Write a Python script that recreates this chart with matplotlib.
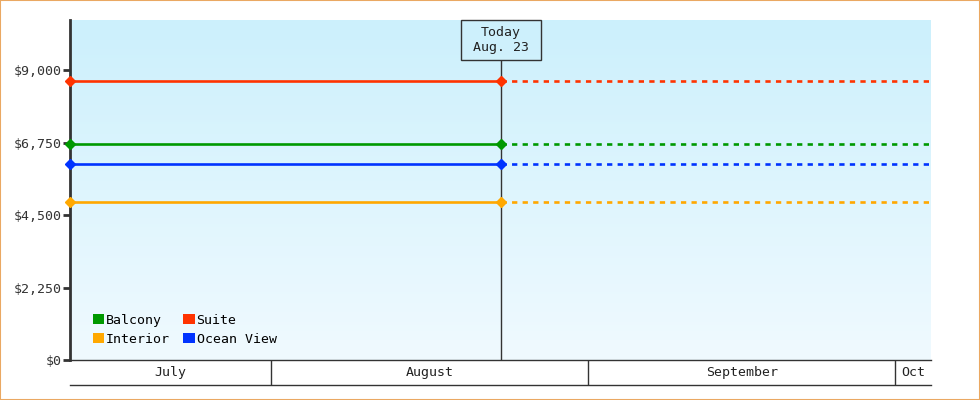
import matplotlib
matplotlib.use('Agg')
import matplotlib.pyplot as plt
import matplotlib.dates as mdates
from matplotlib.patches import Rectangle, Patch
from datetime import datetime
import numpy as np

plt.rcParams['font.family'] = ['DejaVu Sans Mono']

# data
room_types = ['Balcony', 'Interior', 'Suite', 'Ocean View']
prices = [6710, 4900, 8660, 6080]
colors = ['#009900', '#ffa800', '#ff3300', '#0033ff']
start_date = datetime(2024, 7, 12, 9)
today = datetime(2024, 8, 23, 12)
end_date = datetime(2024, 10, 4, 12)
months = ['July', 'August', 'September', 'Oct']
month_starts = [datetime(2024, 8, 1), datetime(2024, 9, 1), datetime(2024, 10, 1)]
y_ticks = [0, 2250, 4500, 6750, 9000]
y_max = 10560
today_label = 'Today\nAug. 23'

W, H = 980, 400
fig = plt.figure(figsize=(W / 100, H / 100), dpi=100)
fig.patches.append(Rectangle((0, 0), 1, 1, transform=fig.transFigure, fill=False,
                             ec='#eaa862', lw=1.5))

ax_l, ax_r, ax_t, ax_b = 70, 931, 20, 360
ax = fig.add_axes([ax_l / W, 1 - ax_b / H, (ax_r - ax_l) / W, (ax_b - ax_t) / H])

x0, xt, x1 = mdates.date2num([start_date, today, end_date])
ax.set_xlim(x0, x1)
ax.set_ylim(0, y_max)

# fond dégradé
grad = np.linspace(0, 1, 256).reshape(-1, 1)
top = np.array([204, 240, 252]) / 255
bot = np.array([240, 250, 255]) / 255
img = top + (bot - top) * grad[:, :, None]
ax.imshow(img, extent=(x0, x1, 0, y_max), aspect='auto', origin='upper', zorder=0)

for name, p, c in zip(room_types, prices, colors):
    ax.plot([x0, xt], [p, p], color=c, lw=1.9, marker='D', ms=5.5, zorder=3,
            clip_on=False, solid_capstyle='butt')
    ax.plot([xt, x1], [p, p], color=c, lw=1.9, dashes=(2, 2), zorder=2,
            dash_capstyle='butt')

# repère "Today"
days_per_px = (x1 - x0) / (ax_r - ax_l)
val_per_px = y_max / (ax_b - ax_t)
box_h = 40 * val_per_px
box_w = 80 * days_per_px
ax.vlines(xt, 0, y_max - box_h, color='#333333', lw=1, zorder=2.5)
ax.add_patch(Rectangle((xt - box_w / 2, y_max - box_h), box_w, box_h, fill=False,
                       ec='#333333', lw=1, zorder=4, clip_on=False))
ax.text(xt, y_max - box_h / 2, today_label, ha='center', va='center', fontsize=9.5,
        color='#222222', linespacing=1.25, zorder=5)

for s in ['top', 'right']:
    ax.spines[s].set_visible(False)
ax.spines['left'].set_color('#333333')
ax.spines['left'].set_linewidth(2)
ax.spines['bottom'].set_color('#333333')
ax.spines['bottom'].set_linewidth(1)
ax.set_xticks([])
ax.set_yticks(y_ticks)
ax.set_yticklabels(['${:,}'.format(v) for v in y_ticks])
ax.tick_params(axis='y', length=5, width=2, color='#333333', labelsize=9.5,
               labelcolor='#333333', pad=1)

handles = [Patch(fc=c, ec='none') for c in colors]
ax.legend(handles, room_types, ncol=2, loc='lower left', bbox_to_anchor=(0.016, 0.015),
          frameon=False, fontsize=9.5, handlelength=0.85, handleheight=0.85,
          handletextpad=0.15, columnspacing=1.0, labelspacing=0.45, borderpad=0.2)

# bande des mois
band = fig.add_axes([ax_l / W, 1 - 385 / H, (ax_r - ax_l) / W, 25 / H])
band.set_xlim(x0, x1)
band.set_ylim(0, 1)
band.patch.set_alpha(0)
for s in ['top', 'left', 'right']:
    band.spines[s].set_visible(False)
band.spines['bottom'].set_color('#333333')
band.spines['bottom'].set_linewidth(1)
band.set_xticks([])
band.set_yticks([])
ms = mdates.date2num(month_starts)
band.vlines(ms, 0, 1, color='#333333', lw=1)
edges = [x0] + list(ms) + [x1]
for i, m in enumerate(months):
    band.text((edges[i] + edges[i + 1]) / 2, 0.5, m, ha='center', va='center',
              fontsize=9.5, color='#222222')

fig.savefig('out.png', dpi=100)
